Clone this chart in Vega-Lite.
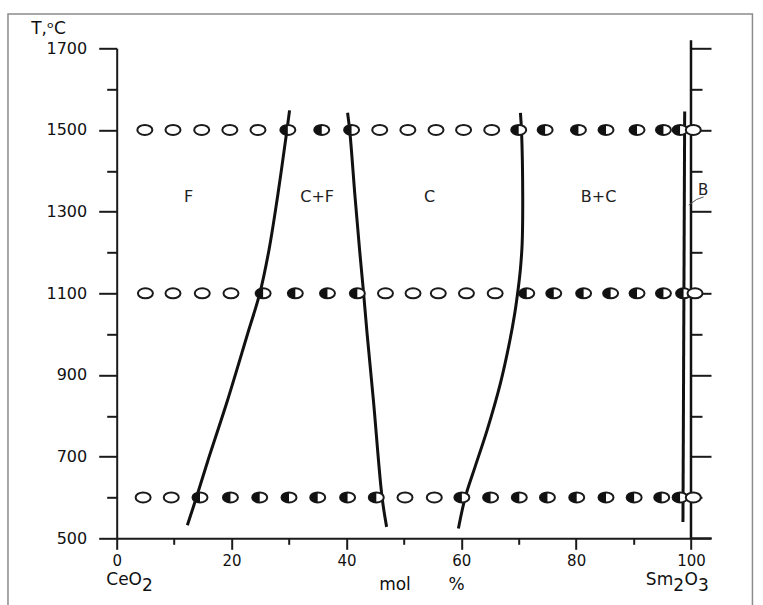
{
  "$schema": "https://vega.github.io/schema/vega-lite/v6.json",
  "width": 574.3,
  "height": 490,
  "autosize": "none",
  "padding": {"left": 116.7, "top": 48.3, "right": 72, "bottom": 67},
  "background": "white",
  "config": {"view": {"stroke": null}, "font": "DejaVu Sans"},
  "datasets": {
    "frame": [{"x": -18.93, "x2": 110.7, "y": 1784, "y2": 300}],
    "rightline": [{"x": 100, "y": 500, "y2": 1720}],
    "xext": [{"x": 100, "x2": 103.6, "y": 500}],
    "lines": [
      {"b": "b1", "o": 1, "x": 12.3, "y": 532}, {"b": "b1", "o": 2, "x": 13.9, "y": 601}, {"b": "b1", "o": 3, "x": 15.9, "y": 691}, {"b": "b1", "o": 4, "x": 19.3, "y": 838}, {"b": "b1", "o": 5, "x": 22.8, "y": 1001}, {"b": "b1", "o": 6, "x": 24.9, "y": 1099}, {"b": "b1", "o": 7, "x": 26.5, "y": 1205}, {"b": "b1", "o": 8, "x": 28.0, "y": 1336}, {"b": "b1", "o": 9, "x": 29.6, "y": 1495}, {"b": "b1", "o": 10, "x": 30.1, "y": 1548},
      {"b": "b2", "o": 1, "x": 40.2, "y": 1542}, {"b": "b2", "o": 2, "x": 40.6, "y": 1495}, {"b": "b2", "o": 3, "x": 41.5, "y": 1336}, {"b": "b2", "o": 4, "x": 42.3, "y": 1205}, {"b": "b2", "o": 5, "x": 43.0, "y": 1099}, {"b": "b2", "o": 6, "x": 43.6, "y": 1001}, {"b": "b2", "o": 7, "x": 44.7, "y": 838}, {"b": "b2", "o": 8, "x": 46.2, "y": 601}, {"b": "b2", "o": 9, "x": 47.0, "y": 528},
      {"b": "b3", "o": 1, "x": 70.3, "y": 1542}, {"b": "b3", "o": 2, "x": 70.5, "y": 1495}, {"b": "b3", "o": 3, "x": 70.7, "y": 1336}, {"b": "b3", "o": 4, "x": 70.6, "y": 1222}, {"b": "b3", "o": 5, "x": 70.3, "y": 1160}, {"b": "b3", "o": 6, "x": 69.9, "y": 1110}, {"b": "b3", "o": 7, "x": 69.3, "y": 1050}, {"b": "b3", "o": 8, "x": 68.4, "y": 980}, {"b": "b3", "o": 9, "x": 66.8, "y": 879}, {"b": "b3", "o": 10, "x": 64.5, "y": 765}, {"b": "b3", "o": 11, "x": 62.4, "y": 675}, {"b": "b3", "o": 12, "x": 60.7, "y": 601}, {"b": "b3", "o": 13, "x": 59.5, "y": 524},
      {"b": "b4", "o": 1, "x": 98.9, "y": 1545}, {"b": "b4", "o": 2, "x": 98.6, "y": 540}
    ],
    "points": [
      {"T": 1500, "x": 4.9, "s": "open"}, {"T": 1500, "x": 9.8, "s": "open"}, {"T": 1500, "x": 14.8, "s": "open"}, {"T": 1500, "x": 19.7, "s": "open"}, {"T": 1500, "x": 24.6, "s": "open"},
      {"T": 1500, "x": 29.8, "s": "half"}, {"T": 1500, "x": 35.7, "s": "half"}, {"T": 1500, "x": 40.9, "s": "half"},
      {"T": 1500, "x": 45.8, "s": "open"}, {"T": 1500, "x": 50.7, "s": "open"}, {"T": 1500, "x": 55.6, "s": "open"}, {"T": 1500, "x": 60.4, "s": "open"}, {"T": 1500, "x": 65.3, "s": "open"},
      {"T": 1500, "x": 70.0, "s": "half"}, {"T": 1500, "x": 74.6, "s": "half"}, {"T": 1500, "x": 80.4, "s": "half"}, {"T": 1500, "x": 85.2, "s": "half"}, {"T": 1500, "x": 90.6, "s": "half"}, {"T": 1500, "x": 95.2, "s": "half"}, {"T": 1500, "x": 98.1, "s": "half"},
      {"T": 1500, "x": 100.4, "s": "open"},
      {"T": 1100, "x": 5.0, "s": "open"}, {"T": 1100, "x": 9.8, "s": "open"}, {"T": 1100, "x": 14.9, "s": "open"}, {"T": 1100, "x": 19.9, "s": "open"},
      {"T": 1100, "x": 25.5, "s": "half"}, {"T": 1100, "x": 31.1, "s": "half"}, {"T": 1100, "x": 36.7, "s": "half"}, {"T": 1100, "x": 41.9, "s": "half"},
      {"T": 1100, "x": 46.8, "s": "open"}, {"T": 1100, "x": 51.6, "s": "open"}, {"T": 1100, "x": 56.0, "s": "open"}, {"T": 1100, "x": 60.9, "s": "open"}, {"T": 1100, "x": 65.9, "s": "open"},
      {"T": 1100, "x": 71.4, "s": "half"}, {"T": 1100, "x": 76.1, "s": "half"}, {"T": 1100, "x": 81.3, "s": "half"}, {"T": 1100, "x": 86.0, "s": "half"}, {"T": 1100, "x": 90.6, "s": "half"}, {"T": 1100, "x": 95.2, "s": "half"}, {"T": 1100, "x": 98.7, "s": "half"},
      {"T": 1100, "x": 100.7, "s": "open"},
      {"T": 600, "x": 4.6, "s": "open"}, {"T": 600, "x": 9.5, "s": "open"},
      {"T": 600, "x": 14.5, "s": "half"}, {"T": 600, "x": 19.8, "s": "half"}, {"T": 600, "x": 24.9, "s": "half"}, {"T": 600, "x": 30.0, "s": "half"}, {"T": 600, "x": 35.0, "s": "half"}, {"T": 600, "x": 40.2, "s": "half"}, {"T": 600, "x": 45.2, "s": "half"},
      {"T": 600, "x": 50.2, "s": "open"}, {"T": 600, "x": 55.3, "s": "open"},
      {"T": 600, "x": 60.1, "s": "half"}, {"T": 600, "x": 65.1, "s": "half"}, {"T": 600, "x": 70.1, "s": "half"}, {"T": 600, "x": 75.0, "s": "half"}, {"T": 600, "x": 80.1, "s": "half"}, {"T": 600, "x": 85.2, "s": "half"}, {"T": 600, "x": 90.1, "s": "half"}, {"T": 600, "x": 94.9, "s": "half"}, {"T": 600, "x": 98.1, "s": "half"},
      {"T": 600, "x": 100.4, "s": "open"}
    ],
    "regions": [
      {"x": 12.5, "y": 1336, "t": "F"}, {"x": 34.9, "y": 1336, "t": "C+F"}, {"x": 54.5, "y": 1336, "t": "C"}, {"x": 83.9, "y": 1336, "t": "B+C"}
    ],
    "blabel": [{"x": 102.1, "y": 1352, "t": "B"}],
    "leader": [{"o": 1, "x": 102.2, "y": 1336}, {"o": 2, "x": 101.0, "y": 1330}, {"o": 3, "x": 99.6, "y": 1316}],
    "basetext": [
      {"x": 4.4, "y": 500, "t": "CeO", "a": "r"}, {"x": 96.9, "y": 500, "t": "Sm", "a": "r"}, {"x": 98.87, "y": 500, "t": "O", "a": "l"}
    ],
    "subtext": [
      {"x": 4.4, "y": 500, "t": "2"}, {"x": 96.9, "y": 500, "t": "2"}, {"x": 101.2, "y": 500, "t": "3"}
    ],
    "moltext": [{"x": 48.46, "y": 500, "t": "mol"}, {"x": 59.17, "y": 500, "t": "%"}]
  },
  "resolve": {"axis": {"y": "independent"}},
  "layer": [
    {
      "data": {"name": "frame"},
      "mark": {"type": "rect", "fill": null, "stroke": "#8c8c8c", "strokeWidth": 1.5, "clip": false},
      "encoding": {
        "x": {"field": "x", "type": "quantitative", "scale": {"domain": [0, 100], "nice": false, "zero": false},
          "axis": {"orient": "bottom", "values": [0, 10, 20, 30, 40, 50, 60, 70, 80, 90, 100],
            "labelExpr": "datum.value % 20 === 0 ? datum.label : ''", "format": "d",
            "title": null, "grid": false, "labelFlush": false, "labelOverlap": false,
            "domainColor": "#1a1a1a", "domainWidth": 2, "tickColor": "#1a1a1a", "tickWidth": 2,
            "tickSize": {"condition": {"test": "datum.value % 20 === 0", "value": 11}, "value": 6},
            "labelFontSize": 15, "labelColor": "#111", "labelPadding": 4}},
        "x2": {"field": "x2"},
        "y": {"field": "y", "type": "quantitative", "scale": {"domain": [500, 1700], "nice": false, "zero": false},
          "axis": {"orient": "left", "values": [500, 600, 700, 800, 900, 1000, 1100, 1200, 1300, 1400, 1500, 1600, 1700],
            "labelExpr": "(datum.value - 500) % 200 === 0 ? datum.label : ''", "format": "d",
            "title": "T,ᵒC", "titleAngle": 0, "titleAlign": "left", "titleBaseline": "alphabetic", "titleX": -86, "titleY": -15,
            "titleFontSize": 17, "titleFontWeight": "normal", "titleColor": "#111",
            "grid": false, "labelOverlap": false, "labelFlush": false,
            "domainColor": "#1a1a1a", "domainWidth": 2, "tickColor": "#1a1a1a", "tickWidth": 2,
            "tickSize": {"condition": {"test": "(datum.value - 500) % 200 === 0", "value": 18}, "value": 10},
            "labelFontSize": 16, "labelColor": "#111", "labelPadding": 12}},
        "y2": {"field": "y2"}
      }
    },
    {
      "data": {"name": "rightline"},
      "mark": {"type": "rule", "color": "#111", "strokeWidth": 2.5, "clip": false},
      "encoding": {
        "x": {"field": "x", "type": "quantitative"},
        "y": {"field": "y", "type": "quantitative",
          "axis": {"orient": "right", "values": [500, 600, 700, 800, 900, 1000, 1100, 1200, 1300, 1400, 1500, 1600, 1700],
            "labels": false, "domain": false, "title": null, "grid": false, "tickColor": "#1a1a1a", "tickWidth": 2,
            "tickSize": {"condition": {"test": "(datum.value - 500) % 200 === 0", "value": 20}, "value": 11}}},
        "y2": {"field": "y2"}
      }
    },
    {
      "data": {"name": "xext"},
      "mark": {"type": "rule", "color": "#1a1a1a", "strokeWidth": 2, "clip": false},
      "encoding": {
        "x": {"field": "x", "type": "quantitative"},
        "x2": {"field": "x2"},
        "y": {"field": "y", "type": "quantitative", "axis": null}
      }
    },
    {
      "data": {"name": "lines"},
      "mark": {"type": "line", "color": "#111", "strokeWidth": 3, "interpolate": "catmull-rom", "clip": false},
      "encoding": {
        "x": {"field": "x", "type": "quantitative"},
        "y": {"field": "y", "type": "quantitative", "axis": null},
        "detail": {"field": "b"},
        "order": {"field": "o", "type": "quantitative"}
      }
    },
    {
      "data": {"name": "points"},
      "mark": {"type": "point", "shape": "M-1,0A1,0.67,0,1,1,1,0A1,0.67,0,1,1,-1,0Z", "size": 225, "filled": true, "fill": "white", "stroke": "#1a1a1a", "strokeWidth": 2, "opacity": 1, "clip": false},
      "encoding": {
        "x": {"field": "x", "type": "quantitative"},
        "y": {"field": "T", "type": "quantitative", "axis": null}
      }
    },
    {
      "data": {"name": "points"},
      "transform": [{"filter": "datum.s === 'half'"}],
      "mark": {"type": "point", "shape": "M0,-0.67A1,0.67,0,0,0,0,0.67Z", "size": 225, "filled": true, "fill": "#111", "strokeWidth": 0, "opacity": 1, "clip": false},
      "encoding": {
        "x": {"field": "x", "type": "quantitative"},
        "y": {"field": "T", "type": "quantitative", "axis": null}
      }
    },
    {
      "data": {"name": "regions"},
      "mark": {"type": "text", "fontSize": 16, "color": "#222", "align": "center", "baseline": "middle"},
      "encoding": {
        "x": {"field": "x", "type": "quantitative"},
        "y": {"field": "y", "type": "quantitative", "axis": null},
        "text": {"field": "t"}
      }
    },
    {
      "data": {"name": "blabel"},
      "mark": {"type": "text", "fontSize": 15, "color": "#222", "align": "center", "baseline": "middle", "clip": false},
      "encoding": {
        "x": {"field": "x", "type": "quantitative"},
        "y": {"field": "y", "type": "quantitative", "axis": null},
        "text": {"field": "t"}
      }
    },
    {
      "data": {"name": "leader"},
      "mark": {"type": "line", "color": "#555", "strokeWidth": 1, "interpolate": "linear", "clip": false},
      "encoding": {
        "x": {"field": "x", "type": "quantitative"},
        "y": {"field": "y", "type": "quantitative", "axis": null},
        "order": {"field": "o", "type": "quantitative"}
      }
    },
    {
      "data": {"name": "basetext"},
      "transform": [{"filter": "datum.a === 'r'"}],
      "mark": {"type": "text", "fontSize": 17, "color": "#111", "align": "right", "baseline": "alphabetic", "dy": 47, "clip": false},
      "encoding": {
        "x": {"field": "x", "type": "quantitative"},
        "y": {"field": "y", "type": "quantitative", "axis": null},
        "text": {"field": "t"}
      }
    },
    {
      "data": {"name": "basetext"},
      "transform": [{"filter": "datum.a === 'l'"}],
      "mark": {"type": "text", "fontSize": 17, "color": "#111", "align": "left", "baseline": "alphabetic", "dy": 47, "clip": false},
      "encoding": {
        "x": {"field": "x", "type": "quantitative"},
        "y": {"field": "y", "type": "quantitative", "axis": null},
        "text": {"field": "t"}
      }
    },
    {
      "data": {"name": "subtext"},
      "mark": {"type": "text", "fontSize": 17, "color": "#111", "align": "left", "baseline": "alphabetic", "dy": 53, "clip": false},
      "encoding": {
        "x": {"field": "x", "type": "quantitative"},
        "y": {"field": "y", "type": "quantitative", "axis": null},
        "text": {"field": "t"}
      }
    },
    {
      "data": {"name": "moltext"},
      "mark": {"type": "text", "fontSize": 17, "color": "#111", "align": "center", "baseline": "alphabetic", "dy": 52, "clip": false},
      "encoding": {
        "x": {"field": "x", "type": "quantitative"},
        "y": {"field": "y", "type": "quantitative", "axis": null},
        "text": {"field": "t"}
      }
    }
  ]
}
